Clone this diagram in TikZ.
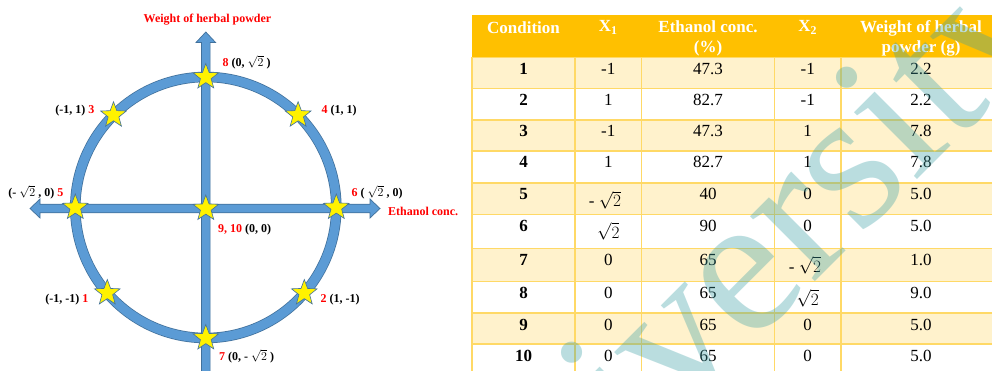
\documentclass[tikz,border=0pt]{standalone}
\usepackage{fontspec}
\setmainfont{Liberation Serif}
\usetikzlibrary{shapes.geometric,positioning}

\definecolor{axisblue}{RGB}{91,155,213}
\definecolor{axisedge}{RGB}{65,113,156}
\definecolor{hdrorange}{RGB}{255,192,0}
\definecolor{rowtint}{RGB}{255,242,204}
\definecolor{gridgold}{RGB}{255,217,102}
\definecolor{labelred}{RGB}{255,0,0}
\definecolor{wmteal}{RGB}{60,160,165}

\tikzset{
  runstar/.style={star,star points=5,star point ratio=2.4,minimum size=27pt,
    inner sep=0pt,fill=yellow,draw=axisedge,line width=0.6pt},
  lbl/.style={inner sep=0pt,font=\fontsize{12}{14}\selectfont\bfseries},
  axislbl/.style={lbl,text=labelred},
  cell/.style={inner sep=0pt,anchor=base,font=\fontsize{17}{20}\selectfont},
  hdr/.style={inner sep=0pt,align=center,text=white,
    font=\fontsize{17}{20}\selectfont\bfseries},
  blockarrow/.style={fill=axisblue,draw=axisedge,line width=0.7pt},
  wmark/.style={inner sep=0pt,rotate=45,text=wmteal,text opacity=0.35,
    font=\fontsize{200}{200}\selectfont}
}
\newcommand{\rn}[1]{\textcolor{labelred}{#1}}

\begin{document}
\begin{tikzpicture}[x=1pt,y=-1pt]
\useasboundingbox (0,0) rectangle (992,371);
\fill[white] (0,0) rectangle (992,371);

% design plot
\draw[axisedge,line width=10.5pt] (205.8,207.5) circle (130.5);
\draw[axisblue,line width=9pt] (205.8,207.5) circle (130.5);
\draw[blockarrow] (201.5,380) -- (201.5,42.5) -- (196,42.5) -- (205.8,32)
  -- (215.6,42.5) -- (210.1,42.5) -- (210.1,380) -- cycle;
\draw[blockarrow] (40,204.2) -- (40,199) -- (30,208.5) -- (40,218) -- (40,212.8)
  -- (370,212.8) -- (370,218) -- (380,208.5) -- (370,199) -- (370,204.2) -- cycle;

\node[runstar] (s8) at (205.8,77) {};
\node[runstar] (s7) at (205.8,338) {};
\node[runstar] (s5) at (75.3,207.5) {};
\node[runstar] (s6) at (336.3,207.5) {};
\node[runstar] (s3) at (113.5,115.2) {};
\node[runstar] (s4) at (298.1,115.2) {};
\node[runstar] (s1) at (107.3,293) {};
\node[runstar] (s2) at (304.3,293) {};
\node[runstar] (s9) at (205.8,208.5) {};

\node[axislbl] (ylab) at (207.5,20) {Weight of herbal powder};
\node[axislbl,anchor=west] (xlab) at (388,211) {Ethanol conc.};
\node[lbl,anchor=base west] (l8) at (222.5,66.5) {\rn{8} (0, $\sqrt{2}$ )};
\node[lbl,anchor=base east] (l3) at (94.5,114) {(-1, 1) \rn{3}};
\node[lbl,anchor=base west] (l4) at (321.5,114) {\rn{4} (1, 1)};
\node[lbl,anchor=base east] (l5) at (63.5,196.5) {(- $\sqrt{2}$ , 0) \rn{5}};
\node[lbl,anchor=base west] (l6) at (351.5,196.5) {\rn{6} ( $\sqrt{2}$ , 0)};
\node[lbl,anchor=base west] (l9) at (218,233) {\rn{9, 10} (0, 0)};
\node[lbl,anchor=base east] (l1) at (88.5,302) {(-1, -1) \rn{1}};
\node[lbl,anchor=base west] (l2) at (320.5,302) {\rn{2} (1, -1)};
\node[lbl,anchor=base west] (l7) at (219,360.5) {\rn{7} (0, - $\sqrt{2}$ )};

% table
\fill[hdrorange] (472,15) rectangle (1001,57.5);
\foreach \top/\bot/\shade in {57.5/88.5/rowtint,88.5/120/white,120/151/rowtint,
  151/183/white,183/214.5/rowtint,214.5/248.5/white,248.5/281.5/rowtint,
  281.5/313/white,313/344/rowtint,344/376/white}
  \fill[\shade] (472,\top) rectangle (1001,\bot);
\foreach \y in {57.5,88.5,120,151,183,214.5,248.5,281.5,313,344}
  \draw[gridgold,line width=1.4pt] (472,\y) -- (1001,\y);
\foreach \x in {472,575,641.7,774.3,841}
  \draw[gridgold,line width=1.4pt] (\x,57.5) -- (\x,376);

\node[hdr] (hcond) at (523.5,27.5) {Condition};
\node[hdr] (hxa) at (608.3,27.5) {X\textsubscript{1}};
\node[hdr] (heth) at (708,38) {Ethanol conc.\\(\%)};
\node[hdr] (hxb) at (807.7,27.5) {X\textsubscript{2}};
\node[hdr] (hwt) at (921,38) {Weight of herbal\\powder (g)};

\foreach \cnd/\xa/\eth/\xb/\wt/\top [count=\r] in {1/-1/47.3/-1/2.2/57.5,
  2/1/82.7/-1/2.2/88.5, 3/-1/47.3/1/7.8/120, 4/1/82.7/1/7.8/151,
  5//40/0/5.0/183, 6//90/0/5.0/214.5, 7/0/65//1.0/248.5, 8/0/65//9.0/281.5,
  9/0/65/0/5.0/313, 10/0/65/0/5.0/344}
{
  \node[cell,font=\fontsize{17}{20}\selectfont\bfseries] (cnd\r) at (523.5,\top+17) {\cnd};
  \node[cell] (xa\r) at (608.3,\top+17) {\xa};
  \node[cell] (eth\r) at (708,\top+17) {\eth};
  \node[cell] (xb\r) at (807.7,\top+17) {\xb};
  \node[cell] (wt\r) at (921,\top+17) {\wt};
}
\node[cell] (xa5r) at (605,206.5) {- $\sqrt{2}$};
\node[cell] (xa6r) at (608.3,238) {$\sqrt{2}$};
\node[cell] (xb7r) at (805,272) {- $\sqrt{2}$};
\node[cell] (xb8r) at (807.7,305) {$\sqrt{2}$};

% watermark
\begin{scope}
\clip (0,0) rectangle (992,371);
\node[wmark] (wm) at (734,300) {University};
\end{scope}
\end{tikzpicture}
\end{document}
